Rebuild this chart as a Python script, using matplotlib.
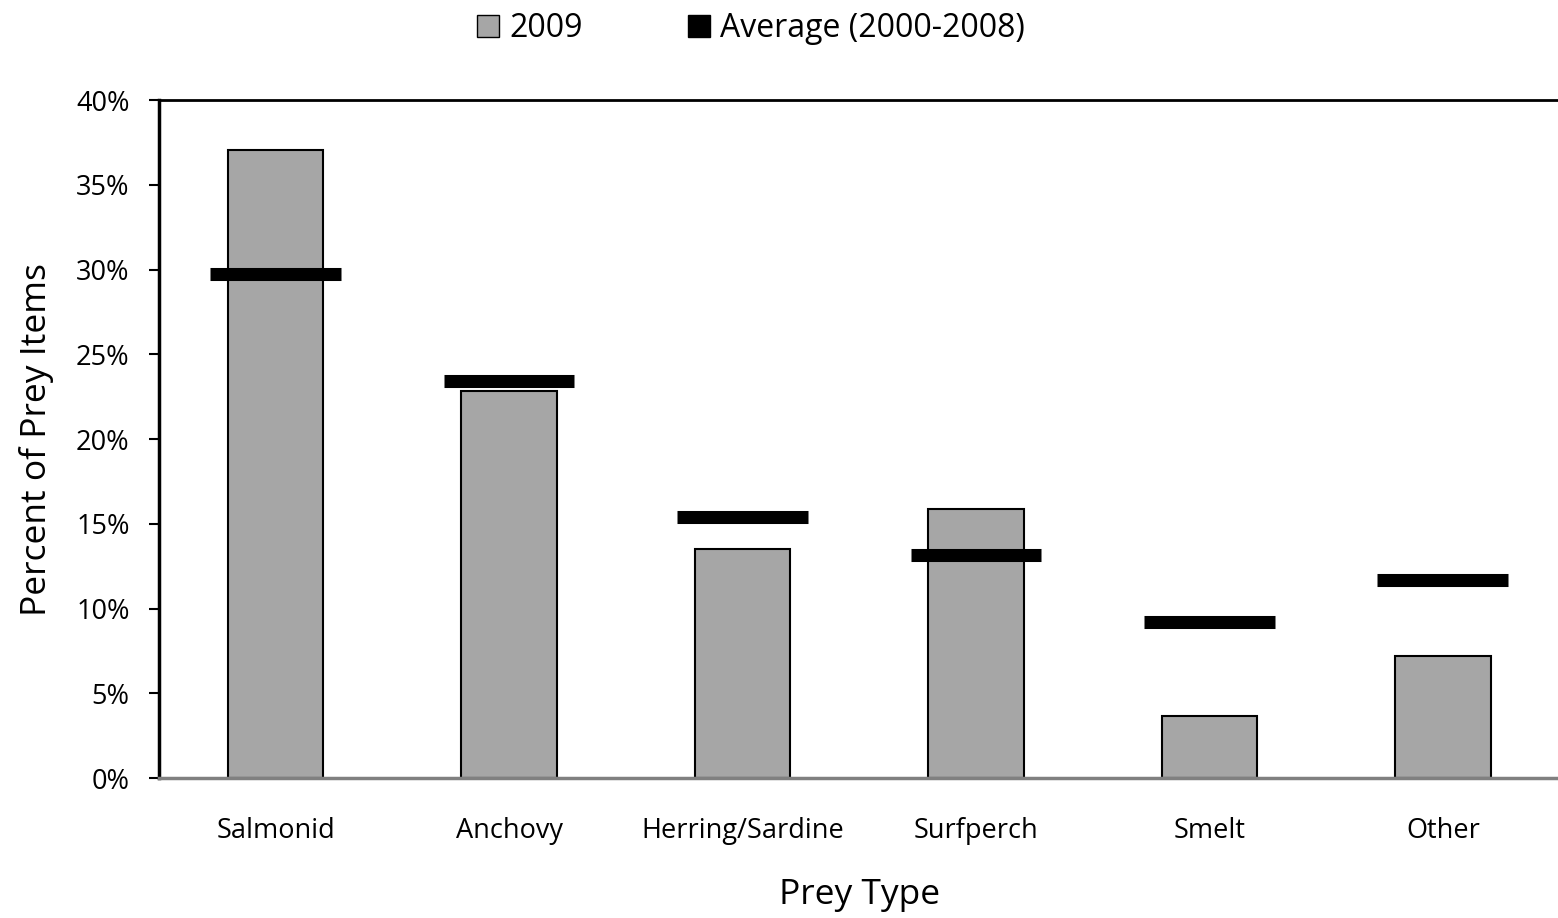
import matplotlib.pyplot as plt
import numpy as np
from matplotlib.ticker import PercentFormatter
from matplotlib.patches import Patch

# prey composition, percent of prey items
categories = ['Salmonid', 'Anchovy', 'Herring/Sardine', 'Surfperch', 'Smelt', 'Other']
pct_2009 = [37.05, 22.85, 13.5, 15.85, 3.67, 7.2]
pct_avg = [29.76, 23.4, 15.38, 13.15, 9.22, 11.66]

plt.rcParams['font.family'] = ['Open Sans', 'DejaVu Sans']

fig = plt.figure(figsize=(15.58, 9.18), dpi=100)
ax = fig.add_axes([0.102, 0.1525, 0.899, 0.7385])

x = np.arange(len(categories))
ax.bar(x, pct_2009, width=0.41, color='#A6A6A6', edgecolor='black', linewidth=1.5, zorder=2)
ax.hlines(pct_avg, x - 0.28, x + 0.28, colors='black', linewidth=9.4, zorder=3)

ax.set_xlim(-0.5, len(categories) - 0.5)
ax.set_ylim(0, 40)
ax.set_yticks(np.arange(0, 41, 5))
ax.yaxis.set_major_formatter(PercentFormatter(decimals=0))
ax.set_xticks(x)
ax.set_xticklabels(categories, fontsize=19.5)
ax.tick_params(axis='x', length=0, pad=28)
ax.tick_params(axis='y', length=7, width=1.5, labelsize=19.5, pad=14)

ax.spines['right'].set_visible(False)
ax.spines['left'].set_linewidth(2.5)
ax.spines['top'].set_linewidth(2)
ax.spines['bottom'].set_color('#808080')
ax.spines['bottom'].set_linewidth(2.5)

ax.set_ylabel('Percent of Prey Items', fontsize=25.5, labelpad=16)
ax.set_xlabel('Prey Type', fontsize=25.5, labelpad=24)

handles = [Patch(facecolor='#A6A6A6', edgecolor='black', linewidth=1),
           Patch(facecolor='black', edgecolor='black')]
fig.legend(handles, ['2009', 'Average (2000-2008)'], loc='center',
           bbox_to_anchor=(0.482, 0.969), ncol=2, frameon=False, fontsize=23,
           handlelength=0.7, handleheight=0.7, handletextpad=0.3, columnspacing=3.3)

fig.savefig('out.png', dpi=100)
